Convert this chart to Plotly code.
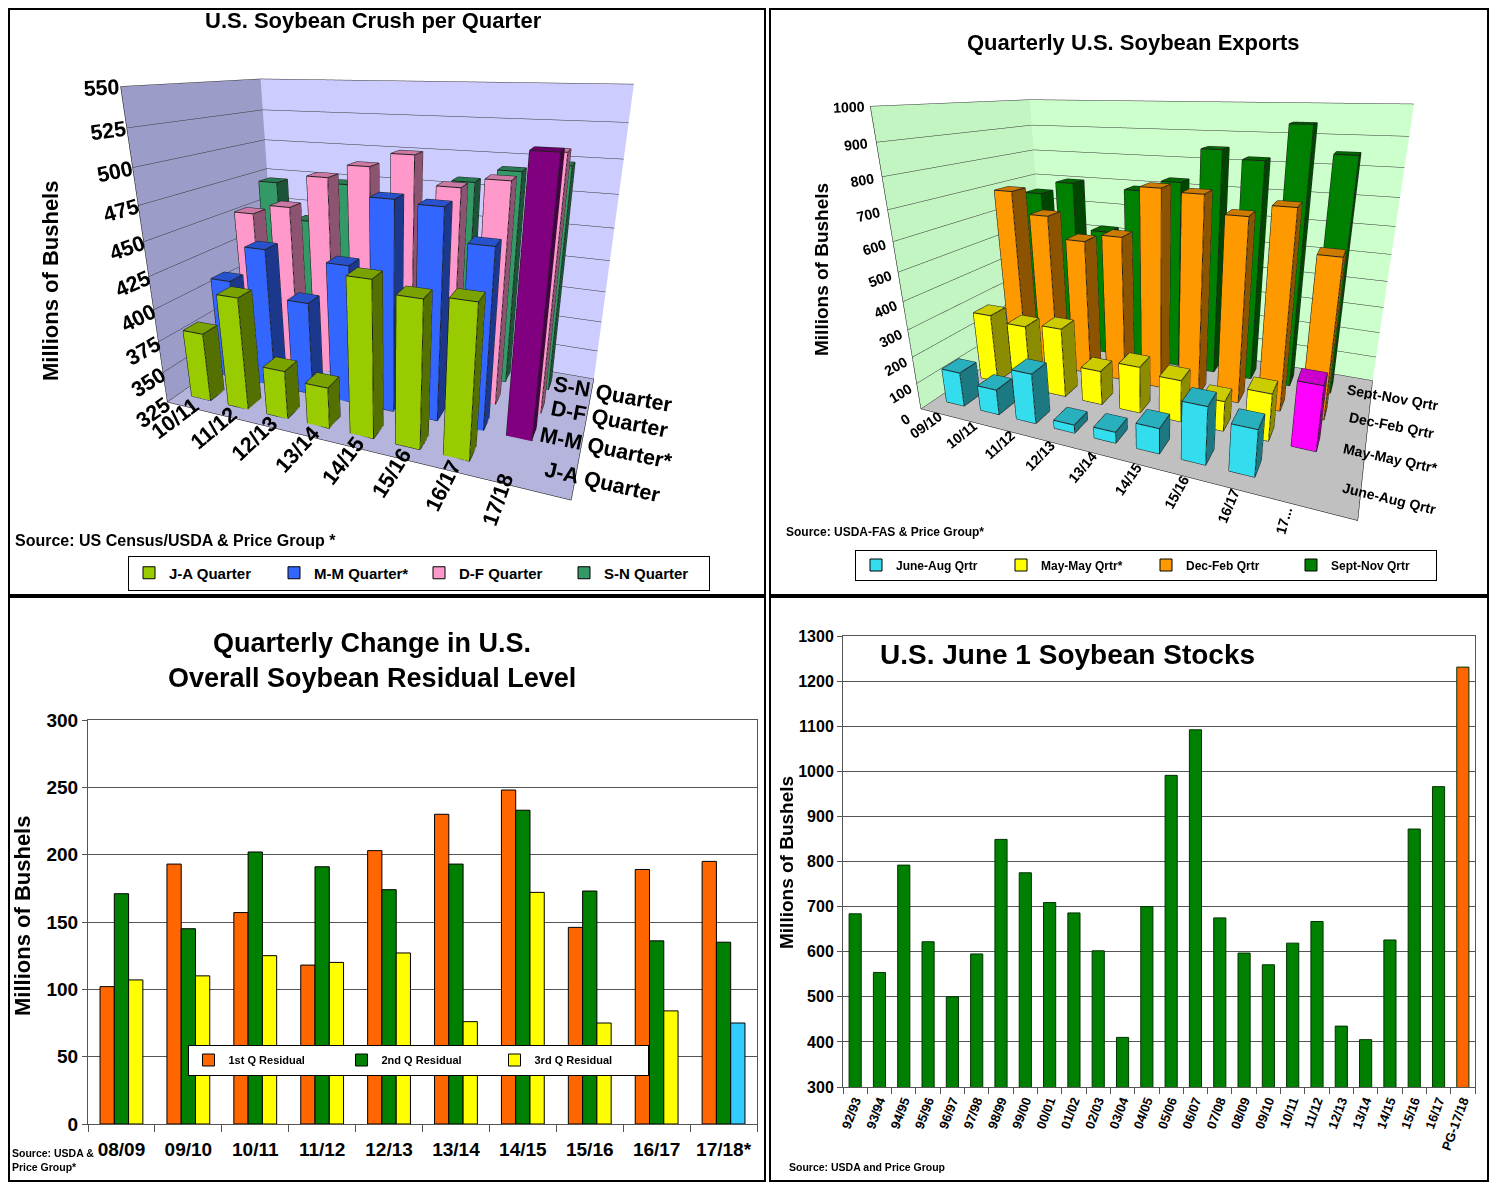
import plotly.graph_objects as go

# the page body adds an 8 px margin, so the figure is sized and placed to fit the window
W, H = 1481, 1174
OFF = 8

def px(x):
    return (x - OFF) / W

def py(y):
    return 1 - (y - OFF) / H

# ---------------- data ----------------
# U.S. Soybean Crush per Quarter (million bushels)
crush_years = ["10/11", "11/12", "12/13", "13/14", "14/15", "15/16", "16/17", "17/18"]
crush_rows = ["J-A Quarter", "M-M Quarter*", "D-F Quarter", "S-N Quarter"]
crush_ja = [380, 413, 363, 357, 440, 432, 435, None]
crush_mm = [408, 437, 400, 433, 482, 480, 458, 517]
crush_df = [452, 460, 485, 495, 505, 485, 492, 512]
crush_sn = [470, 440, 473, 460, 455, 482, 492, 498]

# Quarterly U.S. Soybean Exports (million bushels)
exp_years = ["09/10", "10/11", "11/12", "12/13", "13/14", "14/15", "15/16", "16/17", "17..."]
exp_rows = ["June-Aug Qrtr", "May-May Qrtr*", "Dec-Feb Qrtr", "Sept-Nov Qrtr"]
exp_ja = [130, 95, 185, 30, 40, 90, 200, 160, None]
exp_mm = [270, 250, 265, 130, 175, 155, 110, 170, 230]
exp_df = [690, 610, 530, 560, 740, 730, 670, 710, 570]
exp_sn = [650, 700, 520, 690, 730, 850, 820, 940, 850]

# Quarterly change in overall residual level
resid_years = ["08/09", "09/10", "10/11", "11/12", "12/13", "13/14", "14/15", "15/16", "16/17", "17/18*"]
resid_q1 = [102, 193, 157, 118, 203, 230, 248, 146, 189, 195]
resid_q2 = [171, 145, 202, 191, 174, 193, 233, 173, 136, 135]
resid_q3 = [107, 110, 125, 120, 127, 76, 172, 75, 84, 75]

# June 1 soybean stocks
stock_years = ["92/93", "93/94", "94/95", "95/96", "96/97", "97/98", "98/99", "99/00", "00/01",
               "01/02", "02/03", "03/04", "04/05", "05/06", "06/07", "07/08", "08/09", "09/10",
               "10/11", "11/12", "12/13", "13/14", "14/15", "15/16", "16/17", "PG-17/18"]
stock_vals = [684, 554, 792, 622, 500, 595, 849, 775, 709, 686, 602, 410, 700, 991, 1092,
              675, 597, 571, 619, 667, 435, 405, 626, 872, 966, 1231]

NARROW = "Liberation Sans Narrow, Arial Narrow, Liberation Sans, Arial"
WIDE = "Liberation Sans, Arial"


def shade(hexcol, f):
    h = hexcol.lstrip("#")
    r, g, b = (int(h[i:i + 2], 16) for i in (0, 2, 4))
    return "rgb(%d,%d,%d)" % (r * f, g * f, b * f)


def bars3d(values, row, base, colors, scene, w=0.52, d=0.45):
    X, Y, Z, I, J, K, FC = [], [], [], [], [], [], []
    ex, ey, ez = [], [], []
    for xi, (v, col) in enumerate(zip(values, colors)):
        if v is None:
            continue
        n = len(X)
        x0, x1 = xi - w / 2, xi + w / 2
        y0, y1 = row - d / 2, row + d / 2
        pts = [(x0, y0, base), (x1, y0, base), (x1, y1, base), (x0, y1, base),
               (x0, y0, v), (x1, y0, v), (x1, y1, v), (x0, y1, v)]
        for p in pts:
            X.append(p[0]); Y.append(p[1]); Z.append(p[2])
        faces = [((0, 1, 2), 0.5), ((0, 2, 3), 0.5),
                 ((4, 5, 6), 0.8), ((4, 6, 7), 0.8),
                 ((0, 1, 5), 1.0), ((0, 5, 4), 1.0),
                 ((3, 2, 6), 1.0), ((3, 6, 7), 1.0),
                 ((0, 3, 7), 0.55), ((0, 7, 4), 0.55),
                 ((1, 2, 6), 0.55), ((1, 6, 5), 0.55)]
        for (a, b, c), f in faces:
            I.append(n + a); J.append(n + b); K.append(n + c)
            FC.append(shade(col, f))
        edges = [(0, 1), (1, 2), (2, 3), (3, 0), (4, 5), (5, 6), (6, 7), (7, 4),
                 (0, 4), (1, 5), (2, 6), (3, 7)]
        for a, b in edges:
            ex += [pts[a][0], pts[b][0], None]
            ey += [pts[a][1], pts[b][1], None]
            ez += [pts[a][2], pts[b][2], None]
    mesh = go.Mesh3d(x=X, y=Y, z=Z, i=I, j=J, k=K, facecolor=FC, flatshading=True,
                     lighting=dict(ambient=1, diffuse=0, specular=0, roughness=1, fresnel=0),
                     hoverinfo="skip", showlegend=False, scene=scene)
    lines = go.Scatter3d(x=ex, y=ey, z=ez, mode="lines", line=dict(color="#202020", width=2),
                         hoverinfo="skip", showlegend=False, scene=scene)
    return [mesh, lines]


fig = go.Figure()

# ---------------- top-left: crush 3D ----------------
crush_series = [crush_ja, crush_mm, crush_df, crush_sn]
crush_cols = ["#99cc00", "#3366ff", "#ff99cc", "#339966"]
for r, (vals, col) in enumerate(zip(crush_series, crush_cols)):
    cols = [col] * len(vals)
    if r == 1:
        cols[-1] = "#800080"
    for t in bars3d(vals, r, 325, cols, "scene"):
        fig.add_trace(t)

# ---------------- top-right: exports 3D ----------------
exp_series = [exp_ja, exp_mm, exp_df, exp_sn]
exp_cols = ["#33ddee", "#ffff00", "#ff9900", "#008000"]
for r, (vals, col) in enumerate(zip(exp_series, exp_cols)):
    cols = [col] * len(vals)
    if r == 1:
        cols[-1] = "#ff00ff"
    for t in bars3d(vals, r, 0, cols, "scene2"):
        fig.add_trace(t)

# legend-only entries for the 3D charts (hidden axes)
for name, col in zip(crush_rows, crush_cols):
    fig.add_trace(go.Bar(x=[None], y=[None], name=name, marker=dict(color=col, line=dict(color="black", width=1)),
                         xaxis="x3", yaxis="y3", legend="legend"))
for name, col in zip(exp_rows, exp_cols):
    fig.add_trace(go.Bar(x=[None], y=[None], name=name, marker=dict(color=col, line=dict(color="black", width=1)),
                         xaxis="x3", yaxis="y3", legend="legend2"))

# ---------------- bottom-left: residual ----------------
q3_cols = ["#ffff00"] * (len(resid_q3) - 1) + ["#33ccff"]
fig.add_trace(go.Bar(x=resid_years, y=resid_q1, name="1st Q Residual",
                     marker=dict(color="#ff6600", line=dict(color="black", width=1)),
                     xaxis="x", yaxis="y", legend="legend3"))
fig.add_trace(go.Bar(x=resid_years, y=resid_q2, name="2nd Q Residual",
                     marker=dict(color="#008000", line=dict(color="black", width=1)),
                     xaxis="x", yaxis="y", legend="legend3"))
fig.add_trace(go.Bar(x=resid_years, y=resid_q3, name="3rd Q Residual",
                     marker=dict(color=q3_cols, line=dict(color="black", width=1)),
                     xaxis="x", yaxis="y", legend="legend3"))

# ---------------- bottom-right: June 1 stocks ----------------
stock_cols = ["#008000"] * (len(stock_vals) - 1) + ["#ff6600"]
fig.add_trace(go.Bar(x=stock_years, y=stock_vals, width=0.5,
                     marker=dict(color=stock_cols, line=dict(color="#003300", width=1)),
                     xaxis="x2", yaxis="y2", showlegend=False))

tick3d = dict(family=NARROW, size=16, color="black", weight="bold")
tick3d_s = dict(family=NARROW, size=13, color="black", weight="bold")

TH = 22


def scene_layout(xlabels, rows, zr, zdt, back, side, floor, tf, xasp, zasp, eye, cz):
    return dict(
        xaxis=dict(tickvals=list(range(len(xlabels))), ticktext=xlabels, range=[-0.6, len(xlabels) + 0.2],
                   showgrid=False, showbackground=True, backgroundcolor=side, title="",
                   showspikes=False, tickfont=tf, zeroline=False, showline=True, linecolor="black"),
        yaxis=dict(tickvals=list(range(len(rows))), ticktext=rows, range=[-0.6, len(rows) - 0.4],
                   showgrid=False, showbackground=True, backgroundcolor=back, title="",
                   showspikes=False, tickfont=tf, zeroline=False, showline=True, linecolor="black"),
        zaxis=dict(range=zr, dtick=zdt, showgrid=True, gridcolor="#333333", gridwidth=1,
                   showbackground=True, backgroundcolor=floor, title="", showspikes=False,
                   tickfont=tf, zeroline=False, showline=True, linecolor="black"),
        aspectmode="manual",
        aspectratio=dict(x=xasp, y=0.95, z=zasp),
        camera=dict(eye=eye, center=dict(x=0, y=0, z=cz),
                    projection=dict(type="perspective")),
        bgcolor="white",
    )


fig.update_layout(
    width=W, height=H,
    margin=dict(l=0, r=0, t=0, b=0, autoexpand=False),
    paper_bgcolor="white", plot_bgcolor="white",
    barmode="group", bargap=0.36, bargroupgap=0,
    showlegend=True,
    scene=dict(domain=dict(x=[px(68), px(708)], y=[py(550), py(40)]),
               **scene_layout(crush_years, crush_rows, [325, 550], 25,
                              "#ccccff", "#9c9cc8", "#b4b4dc", tick3d,
                              1.78, 1.36, dict(x=0.95, y=-2.36, z=0.78), -0.2)),
    scene2=dict(domain=dict(x=[px(832), px(1482)], y=[py(535), py(62)]),
                **scene_layout(exp_years, exp_rows, [0, 1000], 100,
                               "#ccffcc", "#c2f5c2", "#c0c0c0", tick3d_s,
                               1.71, 1.18, dict(x=0.81, y=-2.0, z=0.66), -0.15)),
    xaxis=dict(domain=[px(88), px(757)], anchor="y", type="category",
               tickfont=dict(family=NARROW, size=19, color="black", weight="bold"),
               ticks="outside", tickson="boundaries", ticklen=7, tickcolor="#555",
               ticklabelstandoff=8,
               showline=True, linecolor="#555", mirror=True, showgrid=False),
    yaxis=dict(domain=[py(1124), py(720)], anchor="x", range=[0, 300], dtick=50,
               tickfont=dict(family=NARROW, size=19, color="black", weight="bold"),
               ticks="outside", ticklen=5, tickcolor="#555",
               showline=True, linecolor="#555", mirror=True, gridcolor="#555", zeroline=False),
    xaxis2=dict(domain=[px(843), px(1475)], anchor="y2", type="category", tickangle=-70,
                tickfont=dict(family=NARROW, size=13, color="black", weight="bold"),
                ticks="outside", tickson="boundaries", ticklen=6, tickcolor="#555",
                showline=True, linecolor="#555", mirror=True, showgrid=False),
    yaxis2=dict(domain=[py(1087), py(636)], anchor="x2", range=[300, 1300], dtick=100,
                tickfont=dict(family=NARROW, size=16, color="black", weight="bold"),
                ticks="outside", ticklen=5, tickcolor="#555",
                showline=True, linecolor="#555", mirror=True, gridcolor="#555", zeroline=False),
    xaxis3=dict(domain=[0, 0.01], anchor="y3", visible=False),
    yaxis3=dict(domain=[0, 0.01], anchor="x3", visible=False),
    legend=dict(orientation="h", x=px(419), y=py(573), xanchor="center", yanchor="middle",
                bordercolor="black", borderwidth=1, bgcolor="white", entrywidth=100,
                font=dict(family=NARROW, size=15, color="black", weight="bold")),
    legend2=dict(orientation="h", x=px(1146), y=py(565), xanchor="center", yanchor="middle",
                 bordercolor="black", borderwidth=1, bgcolor="white", entrywidth=100,
                 font=dict(family=NARROW, size=12, color="black", weight="bold")),
    legend3=dict(orientation="h", x=px(418), y=py(1060), xanchor="center", yanchor="middle",
                 bordercolor="black", borderwidth=1, bgcolor="white", entrywidth=108,
                 font=dict(family=NARROW, size=11, color="black", weight="bold")),
)


def note(text, x, y, size, family=NARROW, xanchor="center", angle=0, align="center"):
    fig.add_annotation(text=text, x=px(x), y=py(y), xref="paper", yref="paper", showarrow=False,
                       xanchor=xanchor, yanchor="middle", textangle=angle, align=align,
                       font=dict(family=family, size=size, color="black", weight="bold"))


note("U.S. Soybean Crush per Quarter", 373, 21, TH)
note("Quarterly U.S. Soybean Exports", 1133, 42, TH)
note("Quarterly Change in U.S.<br>Overall Soybean Residual Level", 372, 660, 27)
note("U.S. June 1 Soybean Stocks", 878, 654, 28, xanchor="left")

note("Millions of Bushels", 50, 281, 22, family=WIDE, angle=-90)
note("Millions of Bushels", 821, 270, 19, family=WIDE, angle=-90)
note("Millions of Bushels", 22, 916, 22, family=WIDE, angle=-90)
note("Millions of Bushels", 786, 863, 19, family=WIDE, angle=-90)

note("Source: US Census/USDA & Price Group *", 13, 540, 16, xanchor="left")
note("Source: USDA-FAS & Price Group*", 784, 532, 12, xanchor="left")
note("Source: USDA &<br>Price Group*", 10, 1160, 10.5, xanchor="left", align="left")
note("Source: USDA and Price Group", 787, 1167, 10.5, xanchor="left")

# panel frames (clipped to the visible window)
for x0, y0, x1, y1 in [(9, 9, 765, 595), (770, 9, 1488, 595), (9, 597, 765, 1181), (770, 597, 1488, 1181)]:
    fig.add_shape(type="rect", xref="paper", yref="paper", x0=px(x0), y0=py(y0), x1=px(x1), y1=py(y1),
                  line=dict(color="black", width=2), layer="below")

fig.write_html("out.html")
